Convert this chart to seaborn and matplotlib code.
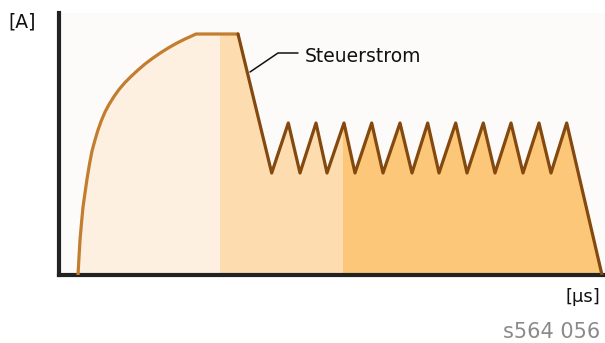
import matplotlib
matplotlib.use('Agg')
import numpy as np
import pandas as pd
import matplotlib.pyplot as plt
import seaborn as sns
from matplotlib.patches import Rectangle

# ── Data (arbitrary units) ──────────────────────────────────────────────────
rise_x = [19, 20, 21, 22.5, 24, 26, 28, 30.5, 33, 36, 39, 42, 46, 50, 55, 60,
          66, 72, 79, 86, 94, 102, 110, 118, 126, 132, 137, 179]
rise_y = [0, 18, 35, 52, 68, 82, 96, 111, 124, 135, 145, 153.5, 163, 170.5, 178.5, 185.5,
          192.5, 198.5, 205, 211, 217, 222.5, 227.5, 232, 236, 238.7, 241, 241]

trough_x = [212.7, 241, 268, 296, 324, 353, 380, 408, 436, 464, 492]
peak_x = [229.3, 257, 285, 312.7, 341, 368.7, 396.7, 424.3, 452, 480, 507.7]
trough_y = 102
peak_y = 152
end_x = 543
end_y = 0

band_edges = [0, 161, 284, 546]
band_colors = ['#fdf0e0', '#fddcb0', '#fcc778']

leader_x = [191, 219, 239]
leader_y = [203, 222, 222]
label_text = 'Steuerstrom'

# ── Build the curve ──────────────────────────────────────────────────────────
zig_x, zig_y = [], []
for tx, px in zip(trough_x, peak_x):
    zig_x += [tx, px]
    zig_y += [trough_y, peak_y]

seg_a = pd.DataFrame({'t': rise_x, 'i': rise_y})
seg_b = pd.DataFrame({'t': [rise_x[-1]] + zig_x + [end_x],
                      'i': [rise_y[-1]] + zig_y + [end_y]})
curve = pd.concat([seg_a, seg_b.iloc[1:]], ignore_index=True)

# ── Plot ────────────────────────────────────────────────────────────────────
sns.set_style('white')
plt.rcParams['font.family'] = ['DejaVu Sans']

fig = plt.figure(figsize=(6.05, 3.43), dpi=100)
ax = fig.add_axes([59 / 605, 68 / 343, 546 / 605, 262 / 343])
ax.set_facecolor('#fdfbf9')

for x0, x1, c in zip(band_edges[:-1], band_edges[1:], band_colors):
    fill = ax.fill_between(curve['t'], curve['i'], 0, color=c, lw=0, zorder=1)
    clip = Rectangle((x0, -10), x1 - x0, 400, transform=ax.transData)
    fill.set_clip_path(clip)

sns.lineplot(data=seg_a, x='t', y='i', sort=False, color='#c27d2e', lw=2.3, ax=ax, zorder=3)
sns.lineplot(data=seg_b, x='t', y='i', sort=False, color='#84490f', lw=2.3, ax=ax, zorder=3)

ax.plot(leader_x, leader_y, color='#111111', lw=1.1, zorder=4)
ax.text(246, 218, label_text, fontsize=13.5, va='center', ha='left', color='#111111')

ax.set_xlim(0, 546)
ax.set_ylim(0, 262)
ax.set_xticks([])
ax.set_yticks([])
ax.set_xlabel('')
ax.set_ylabel('')
for side in ['top', 'right']:
    ax.spines[side].set_visible(False)
for side in ['left', 'bottom']:
    ax.spines[side].set_color('#222222')
    ax.spines[side].set_linewidth(3)
    ax.spines[side].set_capstyle('projecting')

fig.text(8 / 605, 1 - 22 / 343, '[A]', fontsize=13.5, va='center', ha='left', color='#111111')
fig.text(600 / 605, 1 - 297 / 343, '[µs]', fontsize=13, va='center', ha='right', color='#111111')
fig.text(600 / 605, 1 - 332 / 343, 's564 056', fontsize=15, va='center', ha='right', color='#8a8a8a')

fig.savefig('out.png', dpi=100, facecolor='white')
